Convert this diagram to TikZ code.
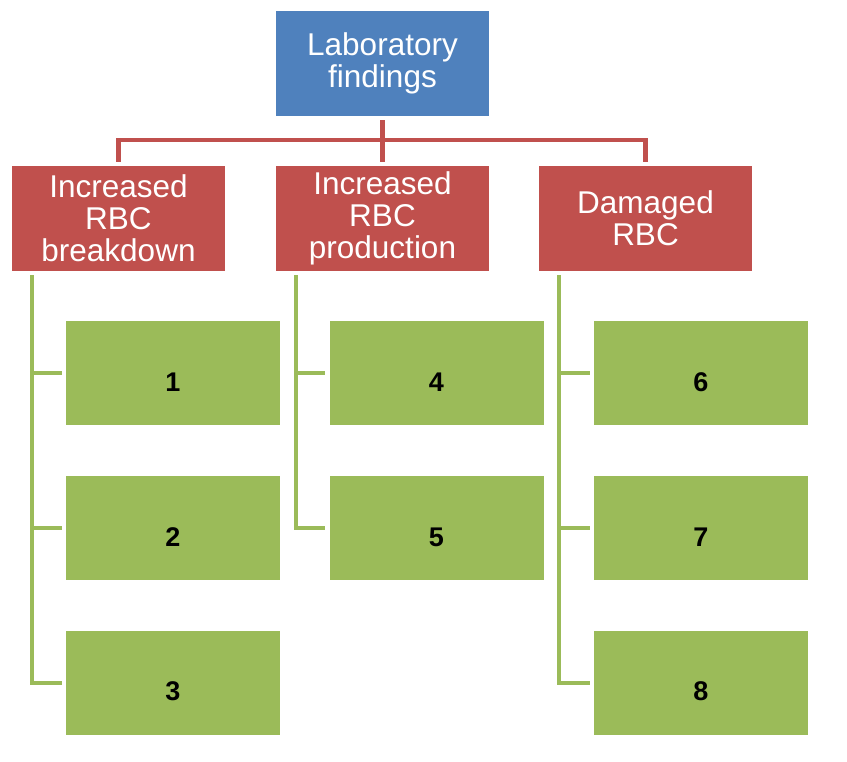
\documentclass[tikz,border=0pt]{standalone}
\usepackage{fontspec}
\setmainfont{Liberation Sans}
\usepackage{tikz}
\usetikzlibrary{calc}
\definecolor{boxblue}{HTML}{4F81BD}
\definecolor{boxred}{HTML}{C0504D}
\definecolor{boxgreen}{HTML}{9BBB59}

\begin{document}
\begin{tikzpicture}[x=1pt,y=-1pt,
		headbox/.style={fill=#1,text=white,minimum width=213pt,minimum height=105pt,inner sep=0pt,align=center,font=\fontsize{31.5}{32}\selectfont},
		leafbox/.style={fill=boxgreen,minimum width=214pt,minimum height=104pt,inner sep=0pt,label={[yshift=-9pt,font=\fontsize{27}{27}\selectfont\bfseries]center:#1}},
		redlink/.style={draw=boxred,line width=4.5pt},
		greenlink/.style={draw=boxgreen,line width=4pt}]
			\useasboundingbox (0,0) rectangle (847,762);
			\def\gap{4pt}
			\node[headbox=boxblue] (lab) at (382.5,63.5) {Laboratory\\findings};
			\node[headbox=boxred] (brk) at (118.5,218.5) {Increased\\RBC\\breakdown};
			\node[headbox=boxred] (prod) at (382.5,218.5) {Increased\\RBC\\production};
			\node[headbox=boxred] (dmg) at (645.5,218.5) {Damaged\\RBC};
			\node[leafbox=1] (n1) at (173,373) {};
			\node[leafbox=2] (n2) at (173,528) {};
			\node[leafbox=3] (n3) at (173,682.5) {};
			\node[leafbox=4] (n4) at (436.5,373) {};
			\node[leafbox=5] (n5) at (436.5,528) {};
			\node[leafbox=6] (n6) at (701,373) {};
			\node[leafbox=7] (n7) at (701,528) {};
			\node[leafbox=8] (n8) at (701,682.5) {};
			\coordinate (bus) at (382.5,140);
			\draw[redlink] ([yshift=-\gap]lab.south) -- (bus);
			\foreach \h in {brk,prod,dmg}
				\draw[redlink] (bus) -| ([yshift=\gap]\h.north);
			\foreach \h/\first/\last in {brk/n1/n3,prod/n4/n5,dmg/n6/n8}{
				\coordinate (v\h) at ([xshift=20pt,yshift=-\gap]\h.south west);
				\draw[greenlink] (v\h) |- ([xshift=-\gap]\last.west);
				\draw[greenlink] (v\h |- \first.west) -- ([xshift=-\gap]\first.west);
			}
			\draw[greenlink] (vbrk |- n2.west) -- ([xshift=-\gap]n2.west);
			\draw[greenlink] (vdmg |- n7.west) -- ([xshift=-\gap]n7.west);
		\end{tikzpicture}
\end{document}
